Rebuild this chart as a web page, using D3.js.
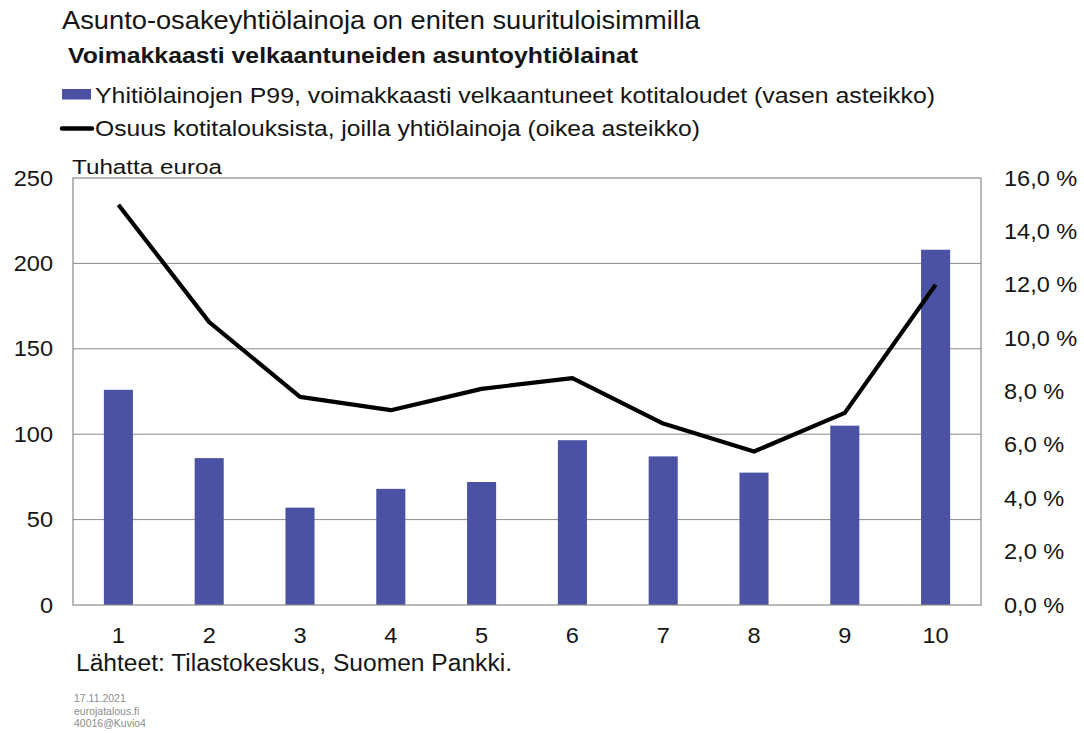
<!DOCTYPE html>
<html>
<head>
<meta charset="utf-8">
<script src="https://cdn.jsdelivr.net/npm/d3@7"></script>
<style>
  body { margin: 0; background: #fff; }
  svg { font-family: "Liberation Sans", Arial, sans-serif; }
</style>
</head>
<body>
<div id="chart"></div>
<script>
// data
var categories = ['1', '2', '3', '4', '5', '6', '7', '8', '9', '10'];
var loanP99 = [126, 86, 57, 68, 72, 96.5, 87, 77.5, 105, 208];
var shareWithLoans = [15.0, 10.6, 7.8, 7.3, 8.1, 8.5, 6.8, 5.75, 7.2, 12.0];
var leftTicks = [0, 50, 100, 150, 200, 250];
var rightTicks = [0, 2, 4, 6, 8, 10, 12, 14, 16];

var W = 1084, H = 733;
var margin = { top: 178, right: 103, bottom: 128, left: 73 };
var width = W - margin.left - margin.right,
    height = H - margin.top - margin.bottom;

var barColor = '#4b51a3';
var gridColor = '#8a8a8a';
var textColor = '#151515';

var svg = d3.select('#chart').append('svg')
  .attr('width', W)
  .attr('height', H);

// the original picture is a bit wider than its fonts, so stretch text sideways
function stretch(sel, factor) {
  sel.each(function() {
    var len = this.getComputedTextLength();
    d3.select(this)
      .attr('textLength', len * factor)
      .attr('lengthAdjust', 'spacingAndGlyphs');
  });
}

function label(x, y, size, str, fitWidth, bold) {
  var t = svg.append('text').attr('x', x).attr('y', y)
    .style('font-size', size + 'px').style('fill', textColor)
    .style('font-weight', bold ? 'bold' : 'normal')
    .text(str);
  if (fitWidth) t.attr('textLength', fitWidth).attr('lengthAdjust', 'spacingAndGlyphs');
  return t;
}

// titles and legend
label(62, 29, 26, 'Asunto-osakeyhtiölainoja on eniten suurituloisimmilla', 638);
label(68, 63, 21.5, 'Voimakkaasti velkaantuneiden asuntoyhtiölainat', 570, true);

svg.append('rect').attr('x', 62).attr('y', 89).attr('width', 29).attr('height', 10.5)
  .style('fill', barColor);
label(95, 102.5, 21.5, 'Yhitiölainojen P99, voimakkaasti velkaantuneet kotitaloudet (vasen asteikko)', 840);
svg.append('line').attr('x1', 62).attr('x2', 92).attr('y1', 128.5).attr('y2', 128.5)
  .style('stroke', '#000').style('stroke-width', 4.5).style('stroke-linecap', 'round');
label(95, 136, 21.5, 'Osuus kotitalouksista, joilla yhtiölainoja (oikea asteikko)', 605);

var g = svg.append('g')
  .attr('transform', 'translate(' + margin.left + ',' + margin.top + ')');

var xScale = d3.scaleBand()
  .domain(categories)
  .range([0, width])
  .paddingInner(0.68)
  .paddingOuter(0.34);

var yLeft = d3.scaleLinear().domain([0, 250]).range([height, 0]);
var yRight = d3.scaleLinear().domain([0, 16]).range([height, 0]);

// gridlines
g.selectAll('line.grid').data(leftTicks.slice(1, -1))
  .enter().append('line')
  .attr('class', 'grid')
  .attr('x1', 0).attr('x2', width)
  .attr('y1', function(d) { return yLeft(d); })
  .attr('y2', function(d) { return yLeft(d); })
  .style('stroke', gridColor).style('stroke-width', 1);

// bars
g.selectAll('rect.bar').data(loanP99)
  .enter().append('rect')
  .attr('class', 'bar')
  .attr('x', function(d, i) { return xScale(categories[i]); })
  .attr('width', xScale.bandwidth())
  .attr('y', function(d) { return yLeft(d); })
  .attr('height', function(d) { return height - yLeft(d); })
  .style('fill', barColor);

// plot frame
g.append('rect')
  .attr('width', width).attr('height', height)
  .style('fill', 'none').style('stroke', gridColor).style('stroke-width', 1.2);

// line
var line = d3.line()
  .x(function(d, i) { return xScale(categories[i]) + xScale.bandwidth() / 2; })
  .y(function(d) { return yRight(d); });

g.append('path').datum(shareWithLoans)
  .attr('d', line)
  .style('fill', 'none').style('stroke', '#000')
  .style('stroke-width', 4.2).style('stroke-linejoin', 'round');

// axes
var leftAxis = d3.axisLeft(yLeft).tickValues(leftTicks).tickSize(0).tickPadding(20);
var la = g.append('g').call(leftAxis);
la.select('.domain').remove();
la.selectAll('text').style('font-size', '22px').style('fill', textColor)
  .style('font-family', '"Liberation Sans", Arial, sans-serif');
stretch(la.selectAll('text'), 1.07);

var fmtPct = function(d) { return d3.format('.1f')(d).replace('.', ',') + ' %'; };
var rightAxis = d3.axisRight(yRight).tickValues(rightTicks).tickSize(0).tickPadding(23)
  .tickFormat(fmtPct);
var ra = g.append('g').attr('transform', 'translate(' + width + ',0)').call(rightAxis);
ra.select('.domain').remove();
ra.selectAll('text').style('font-size', '22px').style('fill', textColor)
  .style('font-family', '"Liberation Sans", Arial, sans-serif');
stretch(ra.selectAll('text'), 1.07);

var bottomAxis = d3.axisBottom(xScale).tickSize(0).tickPadding(22);
var ba = g.append('g').attr('transform', 'translate(0,' + height + ')').call(bottomAxis);
ba.select('.domain').remove();
ba.selectAll('text').style('font-size', '22px').style('fill', textColor)
  .style('font-family', '"Liberation Sans", Arial, sans-serif');
stretch(ba.selectAll('text'), 1.07);

// unit label
label(72, 174, 20.5, 'Tuhatta euroa', 150);

// source
label(76, 671, 23, 'Lähteet: Tilastokeskus, Suomen Pankki.', 436);

var foot = ['17.11.2021', 'eurojatalous.fi', '40016@Kuvio4'];
svg.selectAll('text.foot').data(foot)
  .enter().append('text')
  .attr('class', 'foot')
  .attr('x', 74)
  .attr('y', function(d, i) { return 702 + i * 12.5; })
  .style('font-size', '10.5px').style('fill', '#8c8c8c')
  .text(function(d) { return d; });
</script>
</body>
</html>
